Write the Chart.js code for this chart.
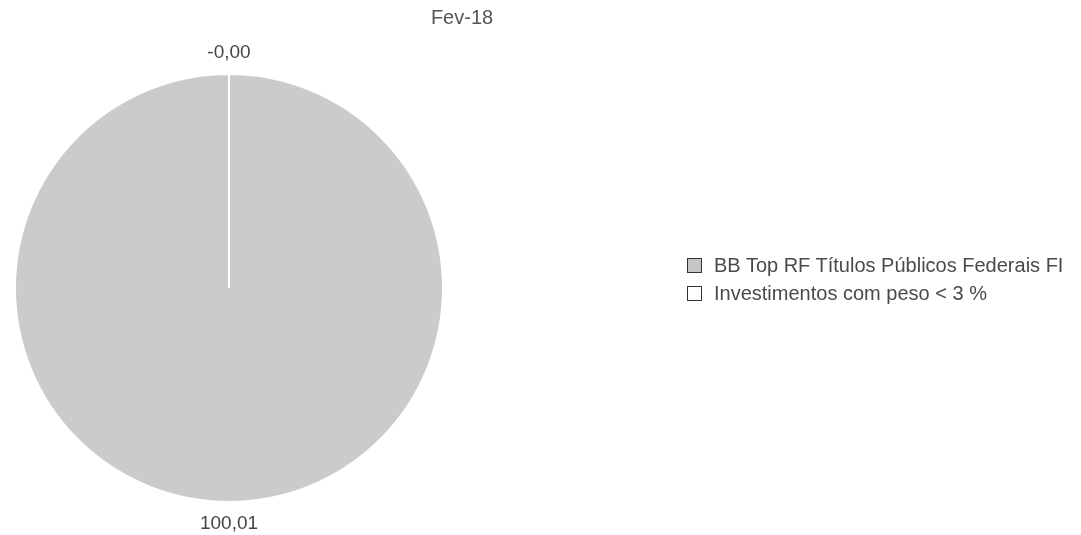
<!DOCTYPE html>
<html>
<head>
<meta charset="utf-8">
<script src="https://cdn.jsdelivr.net/npm/chart.js@4/dist/chart.umd.min.js"></script>
<style>
  html,body{margin:0;padding:0;background:#fff;}
  body{width:1081px;height:535px;position:relative;overflow:hidden;font-family:"Liberation Sans",Arial,sans-serif;}
  #wrap{position:absolute;left:0;top:0;width:1081px;height:535px;}
  #title{position:absolute;left:362px;width:200px;top:6px;text-align:center;font-size:20px;color:#555;}
  #legend{position:absolute;left:687px;top:251px;}
  .li{display:flex;align-items:center;height:28px;font-size:20px;color:#4a4a4a;white-space:nowrap;}
  .sw{width:13px;height:13px;border:1.5px solid #333;margin-right:12px;box-sizing:content-box;}
</style>
</head>
<body>
<div id="wrap"><canvas id="pie"></canvas></div>
<div id="title"></div>
<div id="legend"></div>
<script>
// Fev-18 composition of the portfolio (values in %)
const chartTitle = 'Fev-18';
const categories = ['BB Top RF Títulos Públicos Federais FI', 'Investimentos com peso < 3 %'];
const values = [100.01, -0.001];
const sliceColors = ['#cdcacc', '#ffffff'];
const legendColors = ['#c6c6c6', '#ffffff'];

const fmt = v => v.toFixed(2).replace('.', ',');

document.getElementById('title').textContent = chartTitle;
let lh = '';
categories.forEach((c, i) => {
  lh += `<div class="li"><span class="sw" style="background:${legendColors[i]}"></span><span></span></div>`;
});
const leg = document.getElementById('legend');
leg.innerHTML = lh;
leg.querySelectorAll('.li span:last-child').forEach((s, i) => s.textContent = categories[i]);

// values written outside each slice, at its mid angle
const outLabels = {
  id: 'outLabels',
  afterDatasetsDraw(chart){
    const ctx = chart.ctx;
    const meta = chart.getDatasetMeta(0);
    ctx.save();
    ctx.font = '19px "Liberation Sans", Arial, sans-serif';
    ctx.fillStyle = '#444';
    ctx.textAlign = 'center';
    meta.data.forEach((arc, i) => {
      const p = arc.getProps(['x','y','startAngle','endAngle','outerRadius'], true);
      const mid = (p.startAngle + p.endAngle) / 2;
      const r = p.outerRadius + 12;
      const s = Math.sin(mid);
      ctx.textBaseline = s < 0 ? 'bottom' : 'top';
      ctx.fillText(fmt(values[i]), p.x + Math.cos(mid) * r, p.y + s * r);
    });
    ctx.restore();
  }
};

new Chart(document.getElementById('pie'), {
  type: 'pie',
  data: {
    labels: categories,
    datasets: [{
      data: values,
      backgroundColor: sliceColors,
      borderColor: '#ffffff',
      borderWidth: 2
    }]
  },
  options: {
    responsive: true,
    maintainAspectRatio: false,
    animation: false,
    events: [],
    layout: {padding: {left: 14, right: 637, top: 73, bottom: 32}},
    plugins: {legend: {display: false}, title: {display: false}, tooltip: {enabled: false}}
  },
  plugins: [outLabels]
});
</script>
</body>
</html>
